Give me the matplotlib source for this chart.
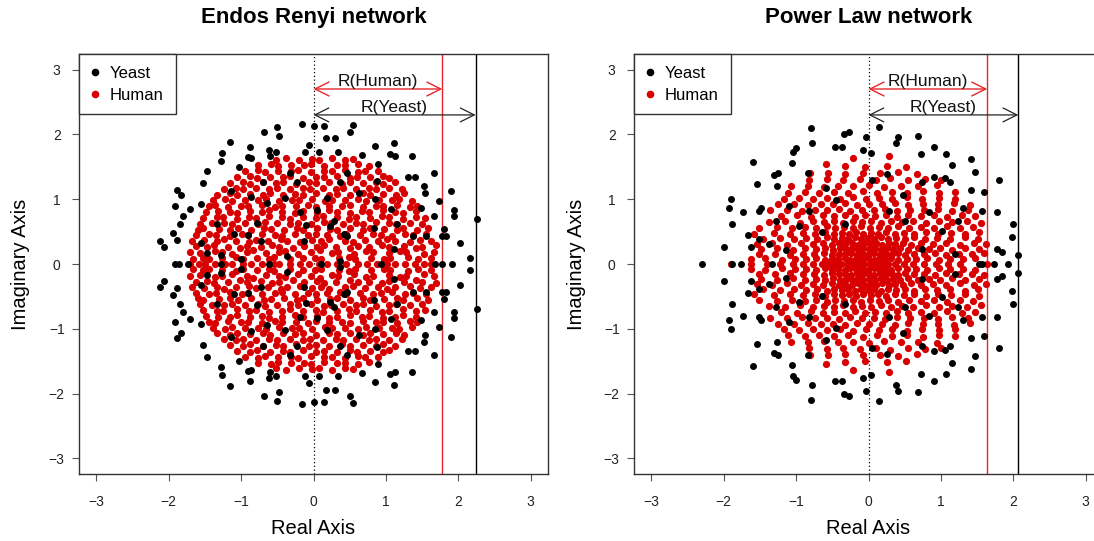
import matplotlib
matplotlib.use("Agg")

import matplotlib.pyplot as plt
import numpy as np
from matplotlib.lines import Line2D


TICKS = [-3, -2, -1, 0, 1, 2, 3]
AXIS_LIMIT = 3.24

YEAST_COLOR = "black"
HUMAN_COLOR = "#d80000"
HUMAN_LINE_COLOR = "#e8262a"

# spectral radius marked in each panel
ER_RADIUS_HUMAN = 1.78
ER_RADIUS_YEAST = 2.24
PL_RADIUS_HUMAN = 1.64
PL_RADIUS_YEAST = 2.07

# Eigenvalues: only the upper half plane and the real axis.
# The adjacency matrices are real, so each complex eigenvalue also has its conjugate.
ER_YEAST = [
    (-0.16, 2.16), (0.00, 2.13), (0.14, 2.13), (-0.50, 2.12), (0.54, 2.14), (0.51, 2.04),
    (-0.69, 2.04), (-0.48, 1.98), (0.17, 1.94), (0.30, 1.95), (-1.15, 1.88), (1.11, 1.86),
    (0.85, 1.82), (-0.06, 1.84), (-1.27, 1.72), (-1.28, 1.59), (-0.88, 1.80), (-0.62, 1.76),
    (-0.52, 1.73), (-0.60, 1.67), (-0.12, 1.73), (0.07, 1.73), (0.34, 1.73), (-0.91, 1.65),
    (-0.87, 1.64), (1.06, 1.69), (1.12, 1.66), (1.36, 1.66), (0.67, 1.68), (0.89, 1.54),
    (-1.47, 1.44), (-1.03, 1.50), (1.67, 1.40), (1.31, 1.34), (1.40, 1.34), (-1.52, 1.25),
    (-1.89, 1.14), (-1.83, 1.06), (1.53, 1.20), (1.54, 1.10), (1.90, 1.13), (-1.55, 0.92),
    (-1.91, 0.89), (-1.71, 0.85), (1.74, 0.97), (1.48, 0.87), (1.94, 0.84), (2.26, 0.70),
    (-1.80, 0.74), (1.67, 0.74), (-1.84, 0.61), (1.94, 0.74), (-1.94, 0.48), (-1.88, 0.37),
    (-2.12, 0.35), (-2.06, 0.26), (1.80, 0.54), (1.55, 0.43), (1.77, 0.43), (1.83, 0.43),
    (2.03, 0.33), (2.16, 0.10),
    (-0.70, 1.26), (-0.39, 1.02), (-0.23, 1.26), (0.05, 0.84), (0.19, 1.02), (0.37, 1.26),
    (0.85, 1.00), (0.63, 1.10), (-1.33, 0.61), (-1.10, 0.46), (-0.78, 0.64), (-0.73, 0.35),
    (-0.13, 0.35), (0.23, 0.59), (0.46, 0.43), (0.83, 0.56), (1.15, 0.61), (1.38, 0.43),
    (1.11, 0.23), (-1.56, 0.33), (-1.47, 0.17), (-1.00, 0.07), (-0.36, 0.12), (0.37, 0.04),
    (-0.87, 1.04), (-0.64, 0.94), (-0.18, 0.81), (-0.11, 0.60), (0.29, 0.67), (0.42, 0.47),
    (1.07, 0.85), (0.88, 1.28), (0.46, 1.40), (-0.33, 1.40), (-1.14, 1.12), (-1.28, 0.14),
    (-0.91, 0.45),
    (-1.91, 0.0), (-1.86, 0.0), (-1.74, 0.0), (1.68, 0.0), (1.77, 0.0), (1.91, 0.0),
    (-1.28, 0.0), (-0.62, 0.0), (0.10, 0.0), (0.93, 0.0),
]

ER_HUMAN = [
    (-1.70, 0.0), (-1.58, 0.0), (-1.50, 0.0), (-1.36, 0.0), (-1.22, 0.0), (-1.12, 0.0),
    (-0.98, 0.0), (-0.86, 0.0), (-0.71, 0.0), (-0.55, 0.0), (-0.47, 0.0), (-0.33, 0.0),
    (-0.18, 0.0), (-0.06, 0.0), (0.08, 0.0), (0.19, 0.0), (0.33, 0.0), (0.45, 0.0),
    (0.61, 0.0), (0.74, 0.0), (0.88, 0.0), (1.01, 0.0), (1.13, 0.0), (1.27, 0.0),
    (1.40, 0.0), (1.53, 0.0), (1.62, 0.0),
    (-1.66, 0.08), (-1.53, 0.10), (-1.44, 0.07), (-1.27, 0.09), (-1.07, 0.11), (-0.98, 0.07),
    (-0.78, 0.10), (-0.62, 0.08), (-0.54, 0.11), (-0.33, 0.07), (-0.14, 0.09), (0.02, 0.10),
    (0.11, 0.07), (0.35, 0.09), (0.49, 0.11), (0.58, 0.08), (0.80, 0.10), (0.97, 0.07),
    (1.06, 0.09), (1.30, 0.11), (1.44, 0.08), (1.62, 0.10),
    (-1.70, 0.19), (-1.57, 0.17), (-1.36, 0.20), (-1.27, 0.18), (-1.13, 0.16), (-0.92, 0.19),
    (-0.84, 0.21), (-0.66, 0.17), (-0.47, 0.19), (-0.39, 0.20), (-0.22, 0.16), (-0.04, 0.19),
    (0.09, 0.21), (0.26, 0.17), (0.34, 0.19), (0.56, 0.16), (0.73, 0.20), (0.82, 0.18),
    (1.04, 0.17), (1.19, 0.20), (1.28, 0.18), (1.52, 0.16), (1.67, 0.19),
    (-1.62, 0.28), (-1.47, 0.26), (-1.38, 0.29), (-1.18, 0.27), (-1.01, 0.25), (-0.92, 0.28),
    (-0.73, 0.26), (-0.57, 0.29), (-0.48, 0.27), (-0.28, 0.25), (-0.13, 0.28), (0.05, 0.26),
    (0.14, 0.29), (0.31, 0.27), (0.50, 0.25), (0.62, 0.28), (0.76, 0.27), (0.95, 0.29),
    (1.04, 0.26), (1.25, 0.28), (1.41, 0.25), (1.50, 0.27), (1.69, 0.29),
    (-1.68, 0.35), (-1.51, 0.37), (-1.33, 0.35), (-1.24, 0.38), (-1.07, 0.36), (-0.89, 0.34),
    (-0.80, 0.37), (-0.63, 0.35), (-0.45, 0.38), (-0.36, 0.36), (-0.19, 0.34), (-0.02, 0.37),
    (0.10, 0.35), (0.22, 0.38), (0.43, 0.36), (0.55, 0.34), (0.71, 0.37), (0.89, 0.35),
    (1.02, 0.38), (1.12, 0.36), (1.33, 0.34), (1.47, 0.37), (1.62, 0.35),
    (-1.63, 0.44), (-1.44, 0.46), (-1.35, 0.45), (-1.16, 0.43), (-0.99, 0.46), (-0.90, 0.44),
    (-0.71, 0.47), (-0.53, 0.45), (-0.44, 0.43), (-0.26, 0.46), (-0.08, 0.44), (0.04, 0.47),
    (0.19, 0.45), (0.36, 0.43), (0.45, 0.46), (0.64, 0.44), (0.82, 0.47), (0.93, 0.45),
    (1.09, 0.43), (1.27, 0.46), (1.38, 0.44), (1.56, 0.47),
    (-1.60, 0.53), (-1.52, 0.55), (-1.31, 0.54), (-1.15, 0.52), (-1.04, 0.55), (-0.86, 0.53),
    (-0.68, 0.56), (-0.59, 0.54), (-0.41, 0.52), (-0.23, 0.55), (-0.14, 0.53), (0.05, 0.56),
    (0.23, 0.54), (0.32, 0.52), (0.51, 0.55), (0.69, 0.53), (0.78, 0.56), (0.97, 0.54),
    (1.15, 0.52), (1.24, 0.55), (1.43, 0.53), (1.58, 0.56),
    (-1.57, 0.62), (-1.40, 0.64), (-1.23, 0.63), (-1.13, 0.61), (-0.95, 0.64), (-0.77, 0.62),
    (-0.67, 0.65), (-0.50, 0.63), (-0.32, 0.61), (-0.22, 0.64), (-0.04, 0.62), (0.14, 0.65),
    (0.24, 0.63), (0.41, 0.61), (0.59, 0.64), (0.68, 0.62), (0.87, 0.65), (1.04, 0.63),
    (1.14, 0.61), (1.33, 0.64), (1.50, 0.62),
    (-1.52, 0.71), (-1.34, 0.73), (-1.25, 0.72), (-1.06, 0.70), (-0.89, 0.73), (-0.79, 0.71),
    (-0.61, 0.74), (-0.43, 0.72), (-0.33, 0.70), (-0.15, 0.73), (0.03, 0.71), (0.13, 0.74),
    (0.32, 0.72), (0.49, 0.70), (0.59, 0.73), (0.78, 0.71), (0.95, 0.74), (1.05, 0.72),
    (1.24, 0.70), (1.41, 0.73), (1.54, 0.71),
    (-1.49, 0.80), (-1.32, 0.82), (-1.16, 0.81), (-1.06, 0.79), (-0.88, 0.82), (-0.71, 0.80),
    (-0.61, 0.83), (-0.43, 0.81), (-0.25, 0.79), (-0.15, 0.82), (0.05, 0.80), (0.22, 0.83),
    (0.32, 0.81), (0.50, 0.79), (0.67, 0.82), (0.77, 0.80), (0.96, 0.83), (1.13, 0.81),
    (1.23, 0.79), (1.42, 0.82),
    (-1.45, 0.89), (-1.36, 0.91), (-1.18, 0.88), (-1.00, 0.90), (-0.90, 0.89), (-0.71, 0.91),
    (-0.53, 0.88), (-0.43, 0.90), (-0.24, 0.89), (-0.07, 0.91), (0.03, 0.88), (0.22, 0.90),
    (0.40, 0.89), (0.50, 0.91), (0.69, 0.88), (0.86, 0.90), (0.96, 0.89), (1.15, 0.91),
    (1.33, 0.88), (1.43, 0.90),
    (-1.39, 0.98), (-1.22, 1.00), (-1.12, 0.97), (-0.94, 0.99), (-0.76, 0.98), (-0.66, 1.00),
    (-0.48, 0.97), (-0.30, 0.99), (-0.20, 0.98), (-0.02, 1.00), (0.16, 0.97), (0.26, 0.99),
    (0.44, 0.98), (0.62, 1.00), (0.72, 0.97), (0.90, 0.99), (1.08, 0.98), (1.18, 1.00),
    (1.36, 0.97),
    (-1.33, 1.07), (-1.16, 1.09), (-1.06, 1.06), (-0.88, 1.08), (-0.70, 1.07), (-0.60, 1.09),
    (-0.42, 1.06), (-0.25, 1.08), (-0.14, 1.07), (0.04, 1.09), (0.22, 1.06), (0.32, 1.08),
    (0.50, 1.07), (0.68, 1.09), (0.78, 1.06), (0.96, 1.08), (1.14, 1.07), (1.25, 1.09),
    (-1.24, 1.16), (-1.07, 1.18), (-0.97, 1.15), (-0.79, 1.17), (-0.61, 1.16), (-0.51, 1.18),
    (-0.33, 1.15), (-0.15, 1.17), (-0.05, 1.16), (0.13, 1.18), (0.31, 1.15), (0.41, 1.17),
    (0.59, 1.16), (0.77, 1.18), (0.87, 1.15), (1.05, 1.17), (1.22, 1.16),
    (-1.16, 1.25), (-0.98, 1.27), (-0.88, 1.24), (-0.70, 1.26), (-0.52, 1.25), (-0.42, 1.27),
    (-0.24, 1.24), (-0.06, 1.26), (0.04, 1.25), (0.22, 1.27), (0.40, 1.24), (0.50, 1.26),
    (0.68, 1.25), (0.86, 1.27), (0.96, 1.24), (1.13, 1.26),
    (-1.06, 1.34), (-0.88, 1.36), (-0.78, 1.33), (-0.60, 1.35), (-0.42, 1.34), (-0.32, 1.36),
    (-0.14, 1.33), (0.04, 1.35), (0.14, 1.34), (0.32, 1.36), (0.50, 1.33), (0.60, 1.35),
    (0.78, 1.34), (0.96, 1.36), (1.05, 1.33),
    (-0.94, 1.43), (-0.77, 1.45), (-0.67, 1.42), (-0.49, 1.44), (-0.31, 1.43), (-0.21, 1.45),
    (-0.03, 1.42), (0.15, 1.44), (0.25, 1.43), (0.43, 1.45), (0.61, 1.42), (0.71, 1.44),
    (0.89, 1.43),
    (-0.77, 1.52), (-0.59, 1.54), (-0.49, 1.51), (-0.31, 1.53), (-0.13, 1.52), (-0.03, 1.54),
    (0.15, 1.51), (0.33, 1.53), (0.43, 1.52), (0.61, 1.54), (0.76, 1.51),
    (-0.52, 1.61), (-0.38, 1.63), (-0.20, 1.60), (-0.02, 1.62), (0.08, 1.61), (0.26, 1.63),
    (0.44, 1.60), (0.54, 1.62),
]

PL_YEAST = [
    (-0.80, 2.10), (-0.34, 2.01), (-0.27, 2.04), (-0.04, 1.96), (0.14, 2.12), (0.41, 1.96),
    (0.38, 1.86), (0.68, 1.98), (-0.78, 1.86), (-0.46, 1.81), (-0.36, 1.81), (-0.08, 1.76),
    (0.04, 1.71), (-1.00, 1.79), (-1.04, 1.73), (0.90, 1.80), (0.72, 1.69), (1.07, 1.70),
    (1.41, 1.62), (-1.60, 1.57), (-1.06, 1.56), (-0.84, 1.40), (-1.25, 1.40), (-1.31, 1.37),
    (-1.54, 1.24), (-1.27, 1.21), (1.16, 1.52), (1.47, 1.42), (1.80, 1.29), (1.06, 1.32),
    (1.13, 1.26), (1.41, 1.14), (1.59, 1.11), (-1.90, 1.00), (-1.93, 0.87), (-1.49, 0.87),
    (-1.51, 0.82), (-1.73, 0.80), (-1.89, 0.61), (1.78, 0.81), (1.57, 0.82), (1.99, 0.62),
    (1.98, 0.42), (-1.67, 0.44), (-1.99, 0.26), (-1.51, 0.39), (-1.63, 0.26), (1.78, 0.23),
    (1.85, 0.18), (2.07, 0.14),
    (-0.59, 1.18), (-0.45, 0.98), (0.05, 1.29), (0.26, 1.39), (0.47, 1.06), (0.74, 1.26),
    (0.91, 1.34), (1.30, 0.87), (1.23, 0.67), (1.02, 0.51), (0.84, 0.80), (0.51, 0.67),
    (0.28, 0.82), (-0.32, 0.62), (-0.64, 0.49), (-0.82, 0.82), (-0.96, 0.59), (-1.10, 0.90),
    (-1.28, 0.67), (-1.37, 0.31), (-1.14, 0.21), (0.74, 0.23), (1.20, 0.15),
    (-2.30, 0.0), (-1.88, 0.0), (-1.76, 0.0), (-1.33, 0.0), (1.53, 0.0), (1.57, 0.0),
    (1.73, 0.0), (1.93, 0.0),
]

PL_HUMAN = [
    (-1.90, 0.0), (-1.62, 0.0), (-1.40, 0.0), (-1.22, 0.0), (-1.05, 0.0), (-0.90, 0.0),
    (-0.76, 0.0), (-0.64, 0.0), (-0.55, 0.0), (-0.46, 0.0), (-0.38, 0.0), (-0.30, 0.0),
    (-0.22, 0.0), (-0.14, 0.0), (-0.06, 0.0), (0.02, 0.0), (0.10, 0.0), (0.18, 0.0),
    (0.27, 0.0), (0.37, 0.0), (0.49, 0.0), (0.62, 0.0), (0.77, 0.0), (0.93, 0.0),
    (1.10, 0.0), (1.26, 0.0), (1.64, 0.0),
    (-1.62, 0.07), (-1.43, 0.09), (-1.20, 0.06), (-1.02, 0.08), (-0.86, 0.07), (-0.72, 0.09),
    (-0.60, 0.06), (-0.50, 0.08), (-0.42, 0.07), (-0.33, 0.09), (-0.25, 0.06), (-0.17, 0.08),
    (-0.09, 0.07), (-0.01, 0.09), (0.07, 0.06), (0.15, 0.08), (0.23, 0.07), (0.31, 0.09),
    (0.41, 0.06), (0.53, 0.08), (0.66, 0.07), (0.81, 0.09), (0.98, 0.06), (1.13, 0.08),
    (1.30, 0.07), (1.47, 0.09),
    (-1.51, 0.15), (-1.29, 0.16), (-1.08, 0.14), (-0.90, 0.16), (-0.75, 0.15), (-0.61, 0.17),
    (-0.50, 0.14), (-0.41, 0.16), (-0.33, 0.15), (-0.24, 0.17), (-0.16, 0.14), (-0.08, 0.16),
    (0.00, 0.15), (0.08, 0.17), (0.16, 0.14), (0.24, 0.16), (0.32, 0.15), (0.41, 0.17),
    (0.51, 0.14), (0.63, 0.16), (0.76, 0.15), (0.92, 0.17), (1.07, 0.14), (1.25, 0.16),
    (1.43, 0.15), (1.60, 0.17),
    (-1.48, 0.23), (-1.26, 0.24), (-1.05, 0.22), (-0.88, 0.24), (-0.73, 0.23), (-0.60, 0.25),
    (-0.49, 0.22), (-0.40, 0.24), (-0.31, 0.23), (-0.23, 0.25), (-0.15, 0.22), (-0.07, 0.24),
    (0.01, 0.23), (0.09, 0.25), (0.17, 0.22), (0.25, 0.24), (0.34, 0.23), (0.44, 0.25),
    (0.55, 0.22), (0.68, 0.24), (0.83, 0.23), (0.99, 0.25), (1.16, 0.22), (1.34, 0.24),
    (1.52, 0.23),
    (-1.54, 0.31), (-1.33, 0.32), (-1.12, 0.30), (-0.93, 0.32), (-0.77, 0.31), (-0.63, 0.33),
    (-0.51, 0.30), (-0.41, 0.32), (-0.32, 0.31), (-0.23, 0.33), (-0.15, 0.30), (-0.06, 0.32),
    (0.02, 0.31), (0.11, 0.33), (0.19, 0.30), (0.28, 0.32), (0.37, 0.31), (0.47, 0.33),
    (0.59, 0.30), (0.73, 0.32), (0.89, 0.31), (1.07, 0.33), (1.26, 0.30), (1.46, 0.32),
    (1.62, 0.31),
    (-1.46, 0.39), (-1.22, 0.40), (-1.03, 0.38), (-0.86, 0.40), (-0.71, 0.39), (-0.58, 0.41),
    (-0.47, 0.38), (-0.37, 0.40), (-0.28, 0.39), (-0.19, 0.41), (-0.10, 0.38), (-0.01, 0.40),
    (0.08, 0.39), (0.17, 0.41), (0.27, 0.38), (0.38, 0.40), (0.50, 0.39), (0.63, 0.41),
    (0.78, 0.38), (0.95, 0.40), (1.13, 0.39), (1.33, 0.41), (1.51, 0.38),
    (-1.58, 0.47), (-1.31, 0.48), (-1.09, 0.46), (-0.90, 0.48), (-0.74, 0.47), (-0.60, 0.49),
    (-0.48, 0.46), (-0.37, 0.48), (-0.27, 0.47), (-0.17, 0.49), (-0.07, 0.46), (0.03, 0.48),
    (0.13, 0.47), (0.24, 0.49), (0.36, 0.46), (0.49, 0.48), (0.63, 0.47), (0.79, 0.49),
    (0.96, 0.46), (1.14, 0.48), (1.33, 0.47), (1.52, 0.49),
    (-1.51, 0.56), (-1.27, 0.57), (-1.06, 0.55), (-0.88, 0.57), (-0.72, 0.56), (-0.58, 0.58),
    (-0.46, 0.55), (-0.34, 0.57), (-0.22, 0.56), (-0.10, 0.58), (0.02, 0.55), (0.14, 0.57),
    (0.27, 0.56), (0.41, 0.58), (0.56, 0.55), (0.72, 0.57), (0.90, 0.56), (1.08, 0.58),
    (1.27, 0.55), (1.45, 0.57),
    (-1.38, 0.65), (-1.15, 0.66), (-0.95, 0.64), (-0.77, 0.66), (-0.62, 0.65), (-0.48, 0.67),
    (-0.35, 0.64), (-0.22, 0.66), (-0.09, 0.65), (0.04, 0.67), (0.17, 0.64), (0.31, 0.66),
    (0.46, 0.65), (0.62, 0.67), (0.79, 0.64), (0.97, 0.66), (1.15, 0.65), (1.36, 0.67),
    (1.55, 0.64),
    (-1.21, 0.74), (-0.99, 0.75), (-0.80, 0.73), (-0.63, 0.75), (-0.47, 0.74), (-0.33, 0.76),
    (-0.19, 0.73), (-0.05, 0.75), (0.09, 0.74), (0.24, 0.76), (0.39, 0.73), (0.55, 0.75),
    (0.72, 0.74), (0.90, 0.76), (1.09, 0.73), (1.29, 0.75), (1.47, 0.74),
    (-1.36, 0.83), (-1.13, 0.84), (-0.92, 0.82), (-0.74, 0.84), (-0.57, 0.83), (-0.41, 0.85),
    (-0.25, 0.82), (-0.09, 0.84), (0.07, 0.83), (0.23, 0.85), (0.40, 0.82), (0.58, 0.84),
    (0.76, 0.83), (0.96, 0.85), (1.16, 0.82), (1.38, 0.84),
    (-1.25, 0.92), (-1.03, 0.93), (-0.84, 0.91), (-0.66, 0.93), (-0.49, 0.92), (-0.32, 0.94),
    (-0.16, 0.91), (0.01, 0.93), (0.18, 0.92), (0.36, 0.94), (0.55, 0.91), (0.75, 0.93),
    (0.96, 0.92), (1.18, 0.94), (1.40, 0.91),
    (-1.17, 1.01), (-0.96, 1.02), (-0.77, 1.00), (-0.58, 1.02), (-0.40, 1.01), (-0.22, 1.03),
    (-0.04, 1.00), (0.14, 1.02), (0.33, 1.01), (0.53, 1.03), (0.74, 1.00), (0.97, 1.02),
    (1.19, 1.01),
    (-1.11, 1.10), (-0.88, 1.11), (-0.68, 1.09), (-0.48, 1.11), (-0.28, 1.10), (-0.08, 1.12),
    (0.12, 1.09), (0.32, 1.11), (0.53, 1.10), (0.75, 1.12), (0.98, 1.09), (1.19, 1.11),
    (-1.07, 1.20), (-0.84, 1.21), (-0.62, 1.19), (-0.42, 1.21), (-0.21, 1.20), (0.00, 1.22),
    (0.22, 1.19), (0.45, 1.21), (0.69, 1.20), (0.94, 1.22),
    (-0.82, 1.30), (-0.58, 1.31), (-0.35, 1.29), (-0.12, 1.31), (0.10, 1.30), (0.30, 1.32),
    (0.54, 1.29), (0.78, 1.31), (1.00, 1.30),
    (-0.81, 1.40), (-0.56, 1.41), (-0.33, 1.39), (-0.08, 1.41), (0.16, 1.40), (0.41, 1.42),
    (0.67, 1.39),
    (-0.59, 1.55), (-0.33, 1.51), (-0.05, 1.49), (0.25, 1.51), (0.52, 1.50),
    (-0.22, 1.63), (0.29, 1.67),
]


def with_conjugates(points):
    x_values = []
    y_values = []
    for real_part, imag_part in points:
        x_values.append(real_part)
        y_values.append(imag_part)
        if imag_part != 0:
            x_values.append(real_part)
            y_values.append(-imag_part)
    return np.array(x_values), np.array(y_values)


def draw_panel(axis, title, yeast_points, human_points, radius_human, radius_yeast):
    human_x, human_y = with_conjugates(human_points)
    yeast_x, yeast_y = with_conjugates(yeast_points)

    axis.axvline(0, color="black", linestyle=(0, (1, 2)), linewidth=0.9, zorder=1)
    axis.axvline(radius_human, color=HUMAN_LINE_COLOR, linewidth=1.0, zorder=1)
    axis.axvline(radius_yeast, color="black", linewidth=1.0, zorder=1)

    axis.plot(human_x, human_y, "o", color=HUMAN_COLOR, markersize=5.2,
              markeredgewidth=0, zorder=2)
    axis.plot(yeast_x, yeast_y, "o", color=YEAST_COLOR, markersize=5.0,
              markeredgewidth=0, zorder=3)

    arrow_style = "<->,head_length=1.0,head_width=0.5"
    axis.annotate("", xy=(0, 2.70), xytext=(radius_human, 2.70),
                  arrowprops=dict(arrowstyle=arrow_style, color=HUMAN_LINE_COLOR,
                                  linewidth=1.0, shrinkA=0, shrinkB=0))
    axis.annotate("", xy=(0, 2.30), xytext=(radius_yeast, 2.30),
                  arrowprops=dict(arrowstyle=arrow_style, color="#222222",
                                  linewidth=0.9, shrinkA=0, shrinkB=0))
    axis.text(radius_human / 2, 2.81, "R(Human)", ha="center", va="center",
              fontsize=12.5, color="#111111")
    axis.text(radius_yeast / 2, 2.41, "R(Yeast)", ha="center", va="center",
              fontsize=12.5, color="#111111")

    axis.set_xlim(-AXIS_LIMIT, AXIS_LIMIT)
    axis.set_ylim(-AXIS_LIMIT, AXIS_LIMIT)
    axis.set_xticks(TICKS)
    axis.set_yticks(TICKS)
    axis.tick_params(direction="out", length=5, width=0.8, color="#555555",
                     labelsize=10, labelcolor="#222222")
    axis.tick_params(axis="x", pad=15)
    axis.tick_params(axis="y", pad=11)
    for label in axis.get_xticklabels():
        label.set_verticalalignment("center")
    for label in axis.get_yticklabels():
        label.set_horizontalalignment("center")

    for spine in axis.spines.values():
        spine.set_color("#333333")
        spine.set_linewidth(1.0)

    axis.set_title(title, fontsize=16, fontweight="bold", pad=22)
    axis.set_xlabel("Real Axis", fontsize=14.5)
    axis.set_ylabel("Imaginary Axis", fontsize=14.5)
    axis.xaxis.set_label_coords(0.5, -55 / 420)
    axis.xaxis.label.set_verticalalignment("center")
    axis.yaxis.set_label_coords(-58 / 469, 0.5)
    axis.yaxis.label.set_verticalalignment("center")

    handles = [
        Line2D([], [], marker="o", linestyle="none", color=YEAST_COLOR,
               markersize=5.5, markeredgewidth=0, label="Yeast"),
        Line2D([], [], marker="o", linestyle="none", color=HUMAN_COLOR,
               markersize=5.5, markeredgewidth=0, label="Human"),
    ]
    legend = axis.legend(handles=handles, loc="upper left", fontsize=12,
                         borderaxespad=0, borderpad=0.7, handlelength=0.5,
                         handletextpad=0.66, labelspacing=0.42, fancybox=False,
                         framealpha=1, edgecolor="#333333")
    legend.get_frame().set_linewidth(1.0)


def main():
    plt.rcParams["font.family"] = ["Liberation Sans", "DejaVu Sans"]

    figure = plt.figure(figsize=(10.94, 5.41), dpi=100)
    width = 469 / 1094
    height = 420 / 541
    bottom = 1 - 474 / 541
    left_axis = figure.add_axes([79 / 1094, bottom, width, height])
    right_axis = figure.add_axes([634 / 1094, bottom, width, height])

    draw_panel(left_axis, "Endos Renyi network", ER_YEAST, ER_HUMAN,
               ER_RADIUS_HUMAN, ER_RADIUS_YEAST)
    draw_panel(right_axis, "Power Law network", PL_YEAST, PL_HUMAN,
               PL_RADIUS_HUMAN, PL_RADIUS_YEAST)

    figure.savefig("out.png", dpi=100)
    plt.close(figure)


if __name__ == "__main__":
    main()
